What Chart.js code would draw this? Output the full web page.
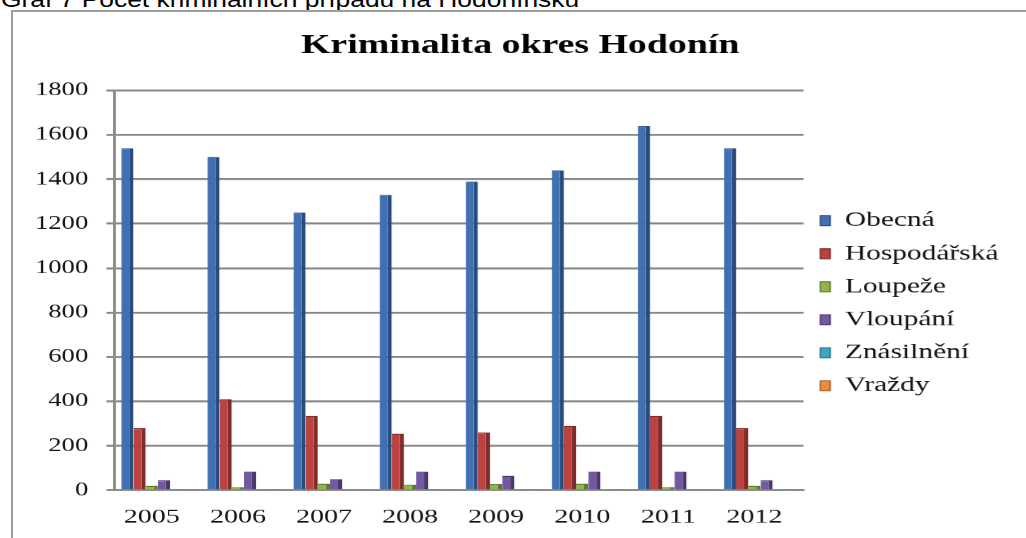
<!DOCTYPE html>
<html lang="cs">
<head>
    <meta charset="UTF-8">
    <title>Kriminalita okres Hodonín</title>
    <script src="https://cdn.jsdelivr.net/npm/chart.js"></script>
    <style>
        body {
            margin: 0;
            width: 1026px;
            height: 538px;
            overflow: hidden;
            background: #fff;
            position: relative;
        }
        #caption {
            position: absolute;
            left: 1px;
            top: -11px;
            font-family: "Liberation Sans", Arial, sans-serif;
            font-size: 22px;
            line-height: 22px;
            white-space: nowrap;
            transform: scaleX(1.2);
            transform-origin: 0 0;
            color: #000;
        }
        #frame {
            position: absolute;
            left: 11px;
            top: 10px;
            width: 1100px;
            height: 600px;
            border-left: 2px solid #9d9d9d;
            border-top: 2px solid #9d9d9d;
        }
        /* graf je v originále roztažený do šířky */
        #wrap {
            position: absolute;
            left: 14px;
            top: 13px;
            width: 723px;
            height: 531px;
            transform: scaleX(1.4);
            transform-origin: 0 0;
        }
    </style>
</head>
<body>
    <div id="caption">Graf 7 Počet kriminálních případů na Hodonínsku</div>
    <div id="frame"></div>
    <div id="wrap"><canvas id="krimChart"></canvas></div>

    <script>
        // počty případů podle let
        const roky = ['2005', '2006', '2007', '2008', '2009', '2010', '2011', '2012'];
        const obecna = [1540, 1500, 1250, 1330, 1390, 1440, 1640, 1540];
        const hospodarska = [280, 410, 335, 255, 260, 290, 335, 280];
        const loupeze = [20, 15, 30, 25, 28, 30, 15, 20];
        const vloupani = [45, 85, 50, 85, 65, 85, 85, 45];
        const znasilneni = [6, 5, 5, 6, 5, 4, 6, 5];
        const vrazdy = [2, 1, 2, 2, 1, 1, 2, 1];
        const osaY = { min: 0, max: 1800, krok: 200 };

        const serif = "'Liberation Serif', 'Times New Roman', serif";

        function sloupce(label, data, barva, stin) {
            return {
                label: label,
                data: data,
                backgroundColor: barva,
                borderColor: stin,
                borderWidth: { top: 1, right: 3, bottom: 0, left: 0 },
                borderSkipped: false,
                categoryPercentage: 0.85,
                barPercentage: 1.0
            };
        }

        const ctx = document.getElementById('krimChart').getContext('2d');
        const krimChart = new Chart(ctx, {
            type: 'bar',
            data: {
                labels: roky,
                datasets: [
                    sloupce('Obecná', obecna, '#4070b2', '#284b7e'),
                    sloupce('Hospodářská', hospodarska, '#bb423f', '#7e2b29'),
                    sloupce('Loupeže', loupeze, '#8fb54b', '#5e7a2f'),
                    sloupce('Vloupání', vloupani, '#7257a1', '#4a376c'),
                    sloupce('Znásilnění', znasilneni, '#3fa6c2', '#2a7186'),
                    sloupce('Vraždy', vrazdy, '#f08b3b', '#a85e24')
                ]
            },
            options: {
                responsive: true,
                maintainAspectRatio: false,
                devicePixelRatio: 1.4,
                animation: false,
                layout: {
                    padding: { left: 10, right: 10, top: 0, bottom: 0 }
                },
                scales: {
                    x: {
                        grid: { display: false, drawTicks: false },
                        border: { display: true, color: '#8c8c8c', width: 2 },
                        ticks: {
                            color: '#111',
                            padding: 15,
                            labelOffset: -4.3,
                            font: { family: serif, size: 20 }
                        }
                    },
                    y: {
                        min: osaY.min,
                        max: osaY.max,
                        afterFit: function (scale) { scale.width = 62; },
                        grid: {
                            color: '#888',
                            lineWidth: 2,
                            drawTicks: true,
                            tickLength: 6
                        },
                        border: { display: true, color: '#888', width: 2 },
                        ticks: {
                            stepSize: osaY.krok,
                            color: '#111',
                            padding: 13,
                            font: { family: serif, size: 19 },
                            callback: function (v) { return String(v); }
                        }
                    }
                },
                plugins: {
                    title: {
                        display: true,
                        text: 'Kriminalita okres Hodonín',
                        color: '#000',
                        font: { family: serif, size: 27, weight: 'bold' },
                        padding: { top: 17, bottom: 28 }
                    },
                    legend: {
                        position: 'right',
                        // prázdný titulek jen posouvá položky legendy níž
                        title: {
                            display: true,
                            text: '',
                            padding: 0,
                            font: { size: 41 }
                        },
                        labels: {
                            color: '#111',
                            boxWidth: 7,
                            boxHeight: 10,
                            padding: 12,
                            font: { family: serif, size: 21 }
                        }
                    },
                    tooltip: { enabled: false }
                }
            }
        });
    </script>
</body>
</html>
